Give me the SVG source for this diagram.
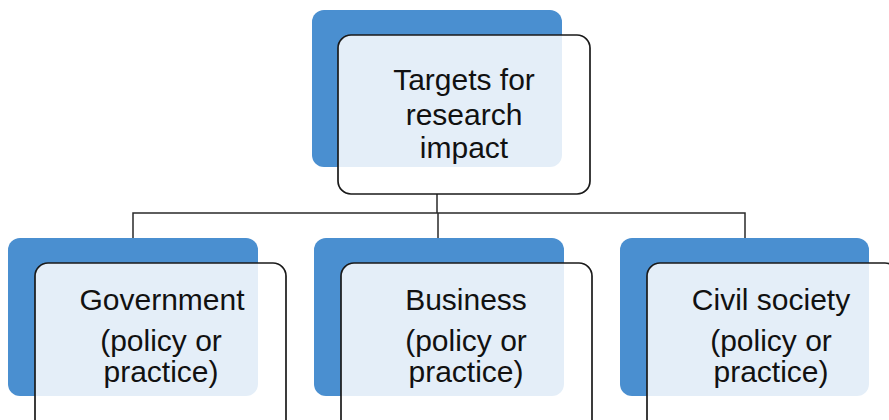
<svg xmlns="http://www.w3.org/2000/svg" width="889" height="420" viewBox="0 0 889 420">
<style>
.back{fill:#4a8fd0;}
.front{fill:#ffffff;fill-opacity:0.85;stroke:#1a1a1a;stroke-width:1.7;}
.t{font-family:"Liberation Sans",Arial,sans-serif;font-size:30px;fill:#111111;text-anchor:middle;}
.c{fill:none;stroke:#2a2a2a;stroke-width:1.5;}
</style>
<rect width="889" height="420" fill="#ffffff"/>
<g id="connectors">
<path class="c" d="M437 194 V213 M133 238 V213 H745 V238 M438 213 V238"/>
</g>
<g id="top">
<rect class="back" x="312" y="10" width="250" height="157" rx="12"/>
<rect class="front" x="338" y="35" width="252" height="159" rx="13"/>
<text class="t" x="464" y="90">Targets for</text>
<text class="t" x="464" y="125">research</text>
<text class="t" x="464" y="158">impact</text>
</g>
<g id="government">
<rect class="back" x="8" y="238" width="250" height="158" rx="12"/>
<rect class="front" x="35" y="263" width="251" height="170" rx="13"/>
<text class="t" x="162" y="310">Government</text>
<text class="t" x="161" y="351">(policy or</text>
<text class="t" x="161" y="382">practice)</text>
</g>
<g id="business">
<rect class="back" x="314" y="238" width="250" height="158" rx="12"/>
<rect class="front" x="341" y="263" width="251" height="170" rx="13"/>
<text class="t" x="466" y="310">Business</text>
<text class="t" x="466" y="351">(policy or</text>
<text class="t" x="466" y="382">practice)</text>
</g>
<g id="civil">
<rect class="back" x="620" y="238" width="249" height="158" rx="12"/>
<rect class="front" x="647" y="263" width="251" height="170" rx="13"/>
<text class="t" x="771" y="310">Civil society</text>
<text class="t" x="771" y="351">(policy or</text>
<text class="t" x="771" y="382">practice)</text>
</g>
</svg>
